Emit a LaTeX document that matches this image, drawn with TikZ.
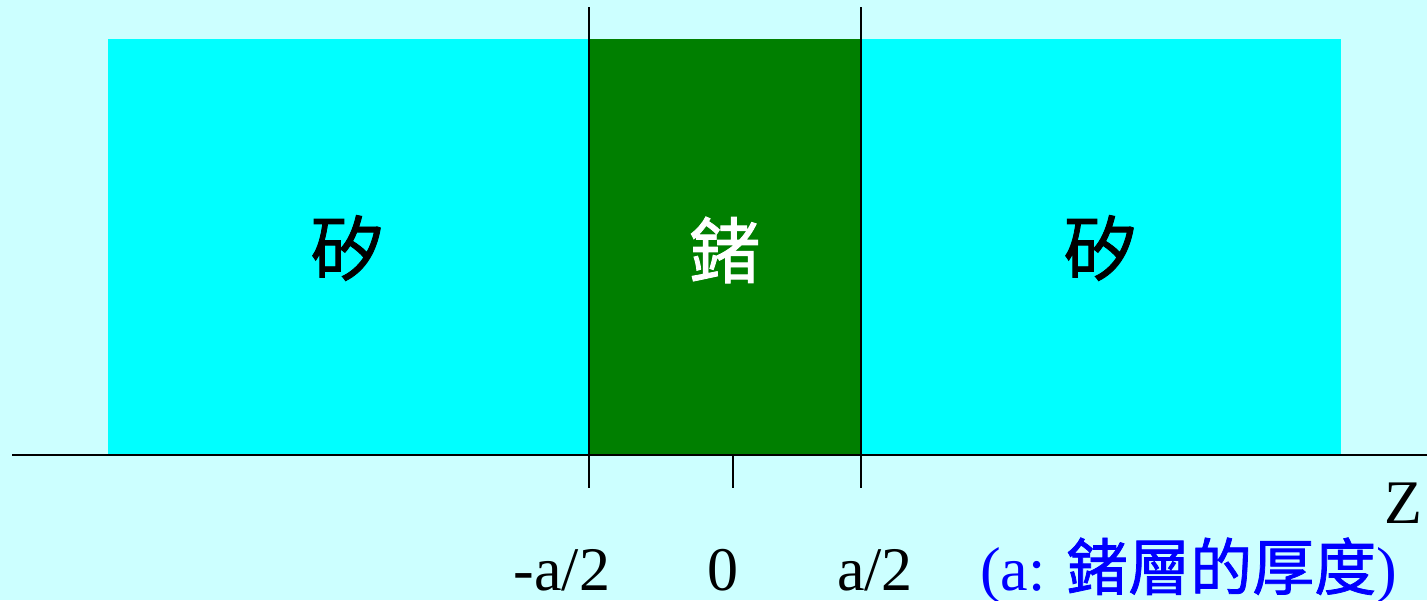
\documentclass[tikz,border=0pt]{standalone}
\usepackage{fontspec}
\setmainfont{Liberation Serif}
\newfontfamily\cjk{Noto Sans CJK TC}[FakeBold=1.2]
\definecolor{bgc}{HTML}{CCFFFF}
\definecolor{sic}{HTML}{00FFFF}
\definecolor{gec}{HTML}{007F00}
\definecolor{blu}{HTML}{0000FF}
\begin{document}
\begin{tikzpicture}[x=1pt,y=-1pt,
  rule/.style={draw=black,line width=2pt},
  lab/.style={inner sep=0pt,anchor=base,font=\fontsize{62}{70}\selectfont},
  big/.style={inner sep=0pt,font=\cjk\fontsize{72}{80}\selectfont}]
\fill[bgc] (0,0) rectangle (1427,600);
\useasboundingbox (0,0) rectangle (1427,600);
\fill[sic] (108,39) rectangle (589,455);
\fill[gec] (589,39) rectangle (861,455);
\fill[sic] (861,39) rectangle (1341,455);
\node[big] (si1) at (347,248) {矽};
\node[big,text=white] (ge) at (725,250) {鍺};
\node[big] (si2) at (1100,248) {矽};
\coordinate (axL) at (12,455);
\coordinate (axR) at (1427,455);
\draw[rule] (axL) -- (axR);
\coordinate (v1t) at (589,7); \coordinate (v1b) at (589,488);
\coordinate (v2t) at (861,7); \coordinate (v2b) at (861,488);
\coordinate (t0t) at (733,455); \coordinate (t0b) at (733,488);
\draw[rule] (v1t) -- (v1b);
\draw[rule] (v2t) -- (v2b);
\draw[rule] (t0t) -- (t0b);
\node[lab] (lm) at (562,590) {-a/2};
\node[lab] (l0) at (723,590) {0};
\node[lab] (lp) at (875,590) {a/2};
\node[lab] (z) at (1403,523) {Z};
\node[lab,anchor=base west,text=blu] (note) at (980,590) {(a: {\cjk\fontsize{62}{70}\selectfont 鍺層的厚度})};
\end{tikzpicture}
\end{document}
